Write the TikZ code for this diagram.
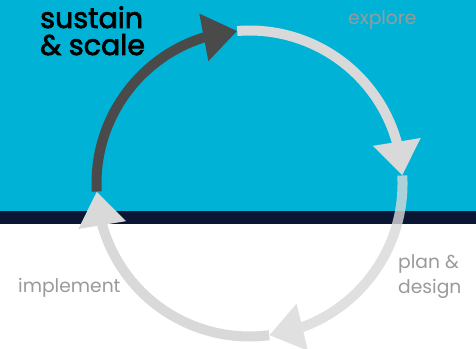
\documentclass[tikz,border=0pt]{standalone}
\usepackage{fontspec}
\setmainfont{Poppins}
\newfontfamily\titlefont[FakeBold=2.5]{Poppins}
\usetikzlibrary{arrows.meta,bending}
\definecolor{skyblue}{HTML}{00B2D6}
\definecolor{navy}{HTML}{0A1634}
\definecolor{darkarc}{HTML}{4A4A4A}
\definecolor{lightarc}{HTML}{D9D9D9}
\definecolor{labelgray}{HTML}{9A9A9A}
\tikzset{
  cyclearc/.style={line width=10pt, -{Triangle[length=34pt,width=46pt,flex]}},
  phase/.style={anchor=base west, inner sep=0pt, text=labelgray, font=\fontsize{18.7}{25}\selectfont, align=left},
}
\begin{document}
\begin{tikzpicture}[x=1pt,y=1pt]
\useasboundingbox (0,0) rectangle (476,348);
\fill[white] (0,0) rectangle (476,348);
\fill[skyblue] (0,137) rectangle (476,348);
\fill[navy] (0,124) rectangle (476,137);
\coordinate (c) at (249.5,164.5);
% top-right arc: explore
\draw[cyclearc, draw=lightarc] (c) ++(94.6:153) arc[start angle=94.6, end angle=3, radius=153];
% right-bottom arc: plan & design (translucent)
\begin{scope}[transparency group, opacity=0.8]
\draw[cyclearc, draw=lightarc] (c) ++(3:153) arc[start angle=3, end angle=-82.6, radius=153];
\end{scope}
% dark arc: sustain & scale
\draw[cyclearc, draw=darkarc] (c) ++(183:153) arc[start angle=183, end angle=94.6, radius=153];
% bottom-left arc: implement
\draw[cyclearc, draw=lightarc] (c) ++(-82.6:153) arc[start angle=-82.6, end angle=-177, radius=153];
% labels
\node[anchor=base west, inner sep=0pt, align=left, font=\titlefont\fontsize{28.5}{27}\selectfont] (sus) at (40,293) {sustain\\\& scale};
\node[phase] (exp) at (348,323) {explore};
\node[phase] (imp) at (18,56) {implement};
\node[phase] (plan) at (398,55) {plan \&\\design};
\end{tikzpicture}
\end{document}
